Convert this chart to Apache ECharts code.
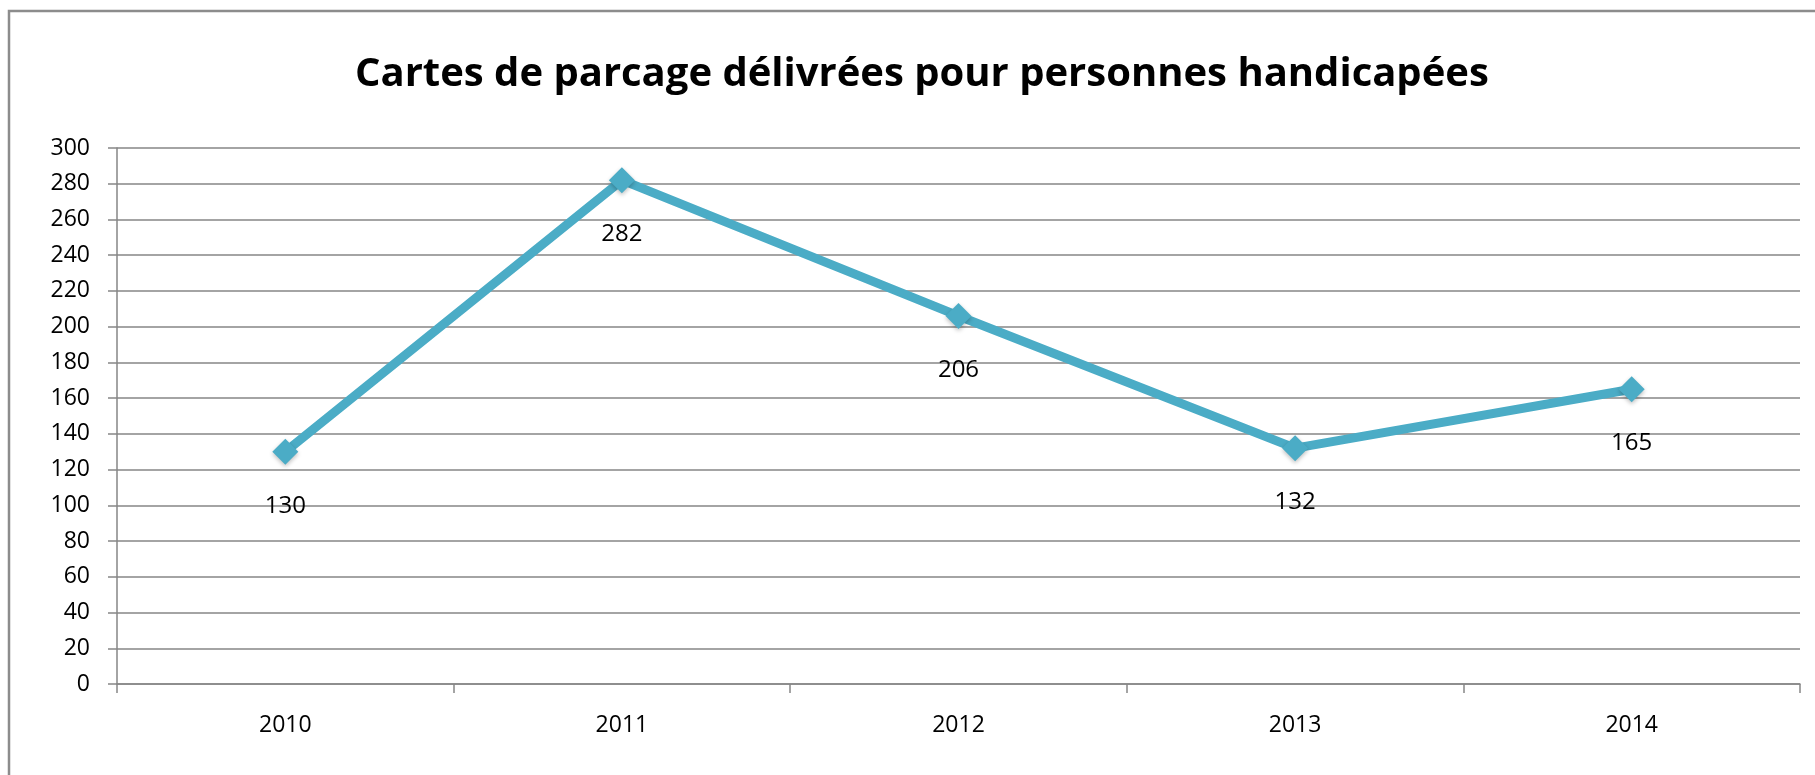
<!DOCTYPE html>
<html>
<head>
<meta charset="utf-8">
<script src="https://cdn.jsdelivr.net/npm/echarts@6/dist/echarts.min.js"></script>
<style>
  html, body { margin: 0; padding: 0; background: #fff; }
  #chart { width: 1815px; height: 775px; }
</style>
</head>
<body>
<div id="chart"></div>
<script>
// données
var annees = ['2010', '2011', '2012', '2013', '2014'];
var cartes = [130, 282, 206, 132, 165];
var titre = 'Cartes de parcage délivrées pour personnes handicapées';

var chart = echarts.init(document.getElementById('chart'));
var police = '"Open Sans", "DejaVu Sans", sans-serif';

var option = {
  animation: false,
  backgroundColor: '#fff',
  textStyle: { fontFamily: police },
  title: {
    text: titre,
    left: 350,
    top: 50,
    textStyle: { fontSize: 40, fontWeight: 'bold', color: '#000', fontFamily: police }
  },
  graphic: [
    {
      type: 'rect',
      shape: { x: 9, y: 11, width: 2000, height: 1000 },
      style: { fill: null, stroke: '#8c8c8c', lineWidth: 2.5 },
      silent: true
    }
  ],
  grid: { left: 117, right: 15, top: 148, bottom: 91 },
  xAxis: {
    type: 'category',
    data: annees,
    boundaryGap: true,
    axisLine: { lineStyle: { color: '#868686', width: 1.5 } },
    axisTick: { show: true, length: 9, lineStyle: { color: '#868686', width: 1.5 } },
    axisLabel: { color: '#000', fontSize: 23, margin: 30 }
  },
  yAxis: {
    type: 'value',
    min: 0,
    max: 300,
    interval: 20,
    axisLine: { show: true, lineStyle: { color: '#868686', width: 1.5 } },
    axisTick: { show: true, length: 9, lineStyle: { color: '#868686', width: 1.5 } },
    splitLine: { lineStyle: { color: '#868686', width: 1.5 } },
    axisLabel: { color: '#000', fontSize: 23, margin: 27 }
  },
  series: [
    {
      type: 'line',
      data: cartes,
      symbol: 'diamond',
      symbolSize: 26,
      lineStyle: { color: '#4bacc6', width: 9 },
      itemStyle: { color: '#4bacc6', shadowColor: 'rgba(0,0,0,0.25)', shadowBlur: 4, shadowOffsetY: 2 },
      label: {
        show: true,
        position: 'bottom',
        distance: 29,
        color: '#000',
        fontSize: 24
      }
    }
  ]
};
chart.setOption(option);
</script>
</body>
</html>
